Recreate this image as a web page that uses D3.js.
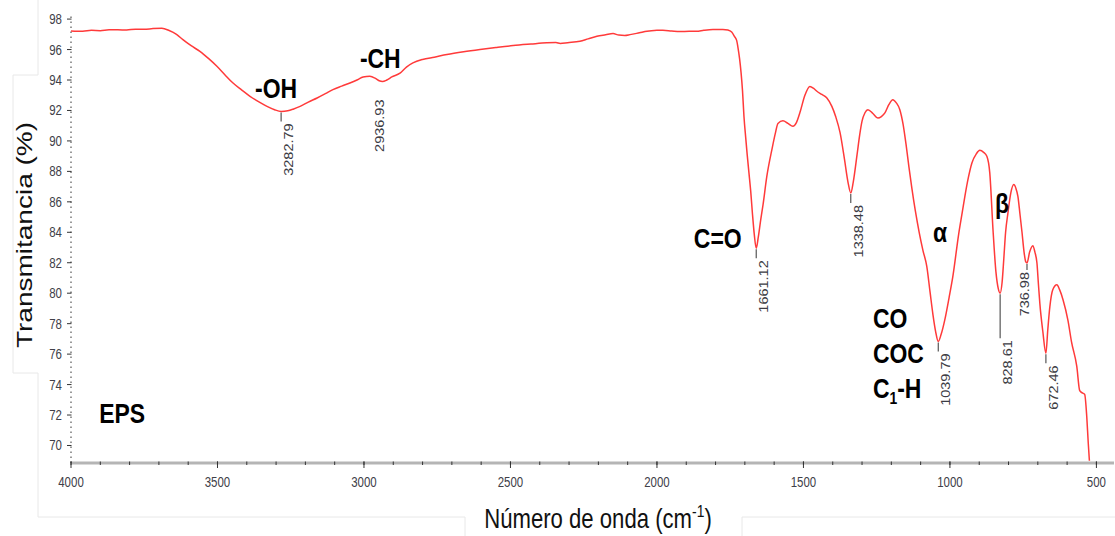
<html>
<head>
    <script src="https://d3js.org/d3.v7.min.js"></script>
    <style>
        body { margin: 0; background: #fff; }
        text { font-family: "Liberation Sans", Arial, sans-serif; }
    </style>
</head>

<body>
    <svg width="1115" height="536"></svg>

    <script>
        // FTIR spectrum of the EPS sample
        const wavenumber = [
            4000, 3960, 3930, 3900, 3870, 3840, 3810, 3780, 3750, 3720, 3690, 3665, 3640, 3618, 3590,
            3560, 3530, 3502, 3475, 3447, 3418, 3389, 3360, 3331, 3305, 3282.79, 3260, 3240, 3218, 3190,
            3160, 3132, 3106, 3076, 3048, 3022, 3003, 2980, 2962, 2948, 2936.93, 2922, 2905, 2877, 2855,
            2833, 2800, 2760, 2717, 2660, 2604, 2550, 2491, 2430, 2376, 2345, 2330, 2305, 2263, 2235,
            2205, 2175, 2150, 2130, 2110, 2092, 2060, 2034, 2000, 1980, 1950, 1922, 1890, 1865, 1840,
            1809, 1775, 1758, 1745, 1735, 1728, 1724, 1718, 1713, 1708, 1703, 1697, 1692, 1686, 1680,
            1674, 1668, 1661.12, 1654, 1646, 1638, 1625, 1607, 1596, 1587, 1570, 1553, 1536, 1524, 1512,
            1495, 1478, 1465, 1454, 1437, 1420, 1403, 1390, 1375, 1360, 1348, 1338.48, 1330, 1317, 1308,
            1300, 1290, 1280, 1263, 1246, 1234, 1222, 1208, 1195, 1183, 1171, 1160, 1150, 1140, 1130,
            1118, 1105, 1092, 1079, 1068, 1058, 1049, 1039.79, 1030, 1017, 1003, 990, 970, 958, 949,
            937, 925, 910, 898, 885, 874, 864, 853, 843, 835, 828.61, 822, 816, 810, 802,
            792, 782, 775, 768, 761, 754, 747, 741, 736.98, 728, 717, 710, 703, 698, 693,
            683, 672.46, 666, 659, 649, 635, 625, 614, 597, 585, 567, 557, 548, 540, 533,
            528, 524
        ];
        const transmittance = [
            97.22, 97.2, 97.26, 97.24, 97.3, 97.3, 97.28, 97.34, 97.33, 97.38, 97.4, 97.25, 97.0, 96.65, 96.25,
            95.88, 95.4, 94.9, 94.35, 93.8, 93.35, 92.93, 92.58, 92.27, 92.05, 91.94, 91.98, 92.1, 92.27, 92.55,
            92.82, 93.1, 93.37, 93.6, 93.8, 94.02, 94.2, 94.24, 94.12, 93.95, 93.9, 94.0, 94.2, 94.45, 94.85,
            95.12, 95.35, 95.5, 95.67, 95.85, 96.0, 96.13, 96.26, 96.36, 96.44, 96.46, 96.4, 96.45, 96.54, 96.7,
            96.87, 96.97, 97.05, 96.95, 96.93, 96.98, 97.1, 97.2, 97.26, 97.27, 97.22, 97.18, 97.2, 97.2, 97.26,
            97.31, 97.32, 97.28, 97.15, 96.85, 96.6, 96.2, 95.4, 94.5, 93.3, 91.6, 90.2, 89.1, 87.9, 86.7,
            85.2, 83.9, 82.95, 83.7, 84.8, 85.8, 87.67, 89.5, 90.5, 91.15, 91.32, 91.15, 90.96, 91.2, 91.86,
            93.0, 93.58, 93.45, 93.26, 93.05, 92.82, 92.27, 91.6, 90.54, 88.8, 87.3, 86.58, 87.3, 89.1, 90.4,
            91.3, 91.85, 92.05, 91.8, 91.5, 91.6, 91.84, 92.4, 92.71, 92.5, 92.05, 91.1, 89.8, 88.3, 86.9,
            85.4, 84.0, 82.8, 81.76, 80.1, 78.6, 77.5, 76.83, 77.3, 78.3, 79.7, 81.1, 83.9, 85.3, 86.36,
            87.6, 88.55, 89.15, 89.38, 89.25, 88.99, 87.9, 84.17, 81.4, 80.3, 80.0, 80.7, 82.3, 84.0, 85.27,
            86.6, 87.13, 86.9, 86.36, 85.2, 84.0, 82.7, 82.05, 81.98, 82.7, 83.12, 82.7, 81.98, 80.6, 79.3,
            77.5, 76.05, 77.6, 79.1, 80.23, 80.56, 80.2, 79.57, 78.2, 76.8, 75.19, 73.6, 73.45, 73.35, 71.9,
            70.2, 69.0
        ];

        // labelled band minima
        const peakWavenumber = [3282.79, 2936.93, 1661.12, 1338.48, 1039.79, 828.61, 736.98, 672.46];
        const peakTransmittance = [91.94, 93.9, 82.95, 86.58, 76.83, 80.0, 81.98, 76.05];

        // group assignments written over the spectrum
        const bandLabels = ["-OH", "-CH", "C=O", "α", "β", "CO", "COC", "C_1-H", "EPS"];
        const bandWavenumber = [3372, 3014, 1874, 1058, 846, 1263, 1263, 1263, 3904];
        const bandTransmittance = [92.84, 94.81, 82.99, 83.38, 85.29, 77.73, 75.43, 73.13, 71.49];

        const xTicks = [4000, 3500, 3000, 2500, 2000, 1500, 1000, 500];
        const yTicks = [70, 72, 74, 76, 78, 80, 82, 84, 86, 88, 90, 92, 94, 96, 98];

        const width = 1115, height = 536;
        const SX = 0.82;   // text in the figure is horizontally squeezed

        const svg = d3.select("svg").attr("width", width).attr("height", height);

        const xScale = d3.scaleLinear().domain([4000, 440]).range([71, 1114]);
        const yScale = d3.scaleLinear().domain([68.85, 98.4]).range([463, 13]);

        // faint frames of the pasted picture pieces
        const frame = svg.append("g").attr("stroke", "#e8e8e8").attr("fill", "none");
        frame.append("path").attr("d", "M38,0V75H13V373H38V517H465V536M742,536V517H1115");

        function squeezed(x, y, rot) {
            return svg.append("g")
                .attr("transform", `translate(${x},${y}) scale(${SX},1)` + (rot ? ` rotate(${rot})` : ""))
                .append("text");
        }

        // x axis
        const xAxisG = svg.append("g").attr("transform", `translate(0,${yScale.range()[0]})`);
        xAxisG.append("line")
            .attr("x1", xScale.range()[0]).attr("x2", xScale.range()[1])
            .attr("stroke", "#b5b5b5").attr("stroke-width", 3);
        xAxisG.selectAll(".minor")
            .data(d3.range(4000, 440, -100))
            .enter().append("line")
            .attr("x1", d => xScale(d)).attr("x2", d => xScale(d))
            .attr("y1", -1.5).attr("y2", 2)
            .attr("stroke", "#333");
        xAxisG.selectAll(".major")
            .data(xTicks)
            .enter().append("line")
            .attr("x1", d => xScale(d)).attr("x2", d => xScale(d))
            .attr("y1", -1.5).attr("y2", 5)
            .attr("stroke", "#333");
        xTicks.forEach(d => {
            const g = svg.append("g")
                .attr("transform", `translate(${xScale(d)},${yScale.range()[0] + 24}) scale(${SX},1)`);
            g.append("text")
                .attr("text-anchor", "middle")
                .attr("font-size", 14)
                .attr("fill", "#404048")
                .text(d);
        });

        // y axis
        const yAxisG = svg.append("g").attr("transform", `translate(${xScale.range()[0]},0)`);
        yAxisG.append("line")
            .attr("y1", yScale.range()[0]).attr("y2", yScale.range()[1])
            .attr("stroke", "#333").attr("stroke-dasharray", "1.5,3.5");
        yAxisG.selectAll(".major")
            .data(yTicks)
            .enter().append("line")
            .attr("x1", -4).attr("x2", 0.5)
            .attr("y1", d => yScale(d)).attr("y2", d => yScale(d))
            .attr("stroke", "#333");
        yTicks.forEach(d => {
            const g = svg.append("g")
                .attr("transform", `translate(${xScale.range()[0] - 9},${yScale(d) + 5}) scale(${SX},1)`);
            g.append("text")
                .attr("text-anchor", "end")
                .attr("font-size", 14)
                .attr("fill", "#404048")
                .text(d);
        });

        // axis titles
        squeezed(32, 235, -90)
            .attr("text-anchor", "middle")
            .attr("font-size", 28)
            .attr("fill", "#111")
            .text("Transmitancia (%)");

        const xt = squeezed(598, 528)
            .attr("text-anchor", "middle")
            .attr("font-size", 27)
            .attr("fill", "#111");
        xt.append("tspan").text("Número de onda (cm");
        xt.append("tspan").attr("font-size", 17).attr("dy", -11).text("-1");
        xt.append("tspan").attr("dy", 11).text(")");

        // spectrum
        const spectrum = wavenumber.map((w, i) => ({ w: w, t: transmittance[i] }));
        const line = d3.line()
            .x(d => xScale(d.w))
            .y(d => yScale(d.t))
            .curve(d3.curveMonotoneX);

        svg.append("path")
            .datum(spectrum)
            .attr("fill", "none")
            .attr("stroke", "#ff3a3a")
            .attr("stroke-width", 1.5)
            .attr("stroke-linejoin", "round")
            .attr("d", line);

        // peak markers and their wavenumber labels
        const peakLayout = {
            "2936.93": { len: 0, dx: 2, dy: 18 },
            "828.61": { len: 45, dx: 12, dy: 47 },
            "736.98": { len: 7, dx: 2, dy: 9 }
        };
        peakWavenumber.forEach((w, i) => {
            const px = xScale(w), py = yScale(peakTransmittance[i]);
            const lay = peakLayout[w.toFixed(2)] || { len: 10, dx: 12, dy: 12 };
            if (lay.len > 0) {
                svg.append("line")
                    .attr("x1", px).attr("x2", px)
                    .attr("y1", py + 1).attr("y2", py + lay.len)
                    .attr("stroke", "#555").attr("stroke-width", 1.2);
            }
            squeezed(px + lay.dx, py + lay.dy, -90)
                .attr("text-anchor", "end")
                .attr("font-size", 14.5)
                .attr("fill", "#3c3c44")
                .text(w.toFixed(2));
        });

        // band assignments
        bandLabels.forEach((lab, i) => {
            const t = squeezed(xScale(bandWavenumber[i]), yScale(bandTransmittance[i]))
                .attr("font-size", 28)
                .attr("font-weight", "bold")
                .attr("fill", "#000");
            if (lab.includes("_")) {
                const parts = lab.split("_");
                t.append("tspan").text(parts[0]);
                t.append("tspan").attr("font-size", 17).attr("dy", 6).text(parts[1].charAt(0));
                t.append("tspan").attr("dy", -6).text(parts[1].slice(1));
            } else {
                t.text(lab);
            }
        });
    </script>

</body>
</html>
